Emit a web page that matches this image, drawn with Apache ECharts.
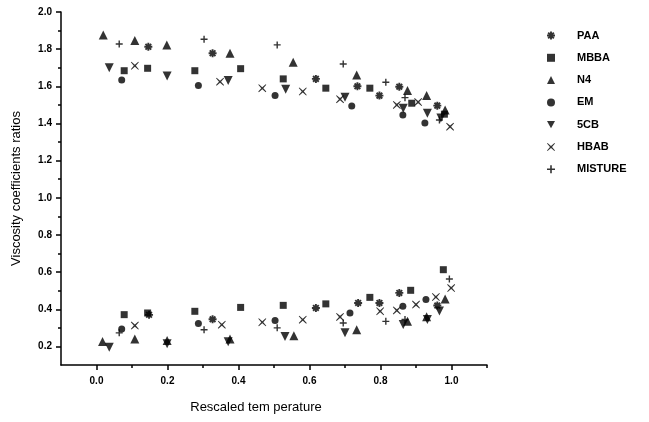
<!DOCTYPE html>
<html>
<head>
<meta charset="utf-8">
<script src="https://cdn.jsdelivr.net/npm/echarts@6/dist/echarts.min.js"></script>
<style>
  html, body { margin: 0; padding: 0; background: #fff; }
  #chart { width: 649px; height: 422px; }
</style>
</head>
<body>
<div id="chart"></div>
<script>
// points: [rescaled temperature, viscosity ratio]
const paa = [
  [0.146, 1.813], [0.327, 1.778], [0.618, 1.640], [0.735, 1.600], [0.797, 1.550], [0.853, 1.598], [0.960, 1.496],
  [0.148, 0.370], [0.327, 0.346], [0.618, 0.407], [0.737, 0.434], [0.797, 0.434], [0.853, 0.488], [0.960, 0.420]
];
const mbba = [
  [0.078, 1.684], [0.144, 1.697], [0.277, 1.684], [0.406, 1.695], [0.526, 1.640], [0.646, 1.590], [0.770, 1.590], [0.888, 1.509], [0.980, 1.450],
  [0.078, 0.371], [0.144, 0.380], [0.277, 0.389], [0.406, 0.410], [0.526, 0.421], [0.646, 0.429], [0.770, 0.464], [0.885, 0.502], [0.977, 0.613]
];
const n4 = [
  [0.019, 1.876], [0.108, 1.846], [0.198, 1.823], [0.376, 1.778], [0.554, 1.730], [0.733, 1.661], [0.876, 1.577], [0.930, 1.550], [0.982, 1.473],
  [0.017, 0.227], [0.108, 0.240], [0.199, 0.232], [0.376, 0.240], [0.556, 0.258], [0.733, 0.290], [0.876, 0.335], [0.930, 0.360], [0.982, 0.455]
];
const em = [
  [0.071, 1.634], [0.287, 1.604], [0.503, 1.550], [0.719, 1.494], [0.863, 1.446], [0.925, 1.402],
  [0.071, 0.294], [0.287, 0.323], [0.503, 0.339], [0.714, 0.380], [0.863, 0.416], [0.928, 0.452]
];
const scb = [
  [0.036, 1.700], [0.199, 1.656], [0.371, 1.631], [0.533, 1.584], [0.700, 1.541], [0.864, 1.482], [0.932, 1.455], [0.970, 1.430],
  [0.036, 0.195], [0.199, 0.215], [0.371, 0.225], [0.531, 0.254], [0.700, 0.273], [0.864, 0.318], [0.932, 0.345], [0.966, 0.390]
];
const hbab = [
  [0.108, 1.711], [0.348, 1.625], [0.467, 1.590], [0.581, 1.572], [0.686, 1.531], [0.846, 1.500], [0.906, 1.515], [0.996, 1.383],
  [0.108, 0.312], [0.353, 0.317], [0.467, 0.330], [0.581, 0.344], [0.686, 0.359], [0.799, 0.389], [0.846, 0.394], [0.900, 0.425], [0.956, 0.466], [0.999, 0.514]
];
const misture = [
  [0.064, 1.828], [0.303, 1.853], [0.509, 1.823], [0.695, 1.720], [0.815, 1.622], [0.869, 1.539], [0.966, 1.419],
  [0.064, 0.273], [0.303, 0.290], [0.509, 0.300], [0.695, 0.326], [0.815, 0.335], [0.869, 0.345], [0.994, 0.563]
];

const xMajor = [0, 0.2, 0.4, 0.6, 0.8, 1.0];
const xMinor = [0.1, 0.3, 0.5, 0.7, 0.9, 1.1];
const yMajor = [0.2, 0.4, 0.6, 0.8, 1.0, 1.2, 1.4, 1.6, 1.8, 2.0];
const yMinor = [0.3, 0.5, 0.7, 0.9, 1.1, 1.3, 1.5, 1.7, 1.9];

// symbols
const plusPath = 'path://M-1,-5H1V-1H5V1H1V5H-1V1H-5V-1H-1Z';
const crossPath = 'path://M-4.3,-5L0,-1.3L4.3,-5L5,-4.3L1.3,0L5,4.3L4.3,5L0,1.3L-4.3,5L-5,4.3L-1.3,0L-5,-4.3Z';
const starPath = 'path://M-1.2,-5H1.2V5H-1.2Z M-5,-1.2H5V1.2H-5Z M-4.4,-2.7L-2.7,-4.4L4.4,2.7L2.7,4.4Z M2.7,-4.4L4.4,-2.7L-2.7,4.4L-4.4,2.7Z';
const downTri = 'path://M0,0L10,0L5,9Z';

const black = '#000';
const labelFont = { fontFamily: 'Liberation Sans', fontWeight: 'bold', fontSize: 10, color: black };

function ser(name, data, symbol, size) {
  return {
    name: name,
    type: 'scatter',
    data: data,
    symbol: symbol,
    symbolSize: size,
    itemStyle: { color: black },
    xAxisIndex: 0,
    yAxisIndex: 0
  };
}

const chart = echarts.init(document.getElementById('chart'));
chart.setOption({
  animation: false,
  backgroundColor: '#fff',
  grid: { left: 61, right: 162, top: 12, bottom: 57 },
  legend: {
    orient: 'vertical',
    left: 542,
    top: 25,
    itemWidth: 8,
    itemHeight: 8,
    itemGap: 11.3,
    textStyle: {
      fontFamily: 'Liberation Sans', fontWeight: 'bold', fontSize: 11, color: black,
      padding: [0, 0, 0, 17]
    },
    data: ['PAA', 'MBBA', 'N4', 'EM', '5CB', 'HBAB', 'MISTURE']
  },
  xAxis: [
    {
      type: 'value', min: -0.1, max: 1.1,
      name: 'Rescaled tem perature',
      nameLocation: 'middle',
      nameGap: 36,
      nameTextStyle: { fontFamily: 'Liberation Sans', fontSize: 13, color: black, padding: [0, 36, 0, 0] },
      axisLine: { show: true, onZero: false, lineStyle: { color: black, width: 1.5 } },
      axisTick: { show: true, customValues: xMajor, length: 5, lineStyle: { color: black, width: 1.5 } },
      axisLabel: Object.assign({ customValues: xMajor, margin: 11, formatter: v => v.toFixed(1) }, labelFont),
      splitLine: { show: false }
    },
    {
      type: 'value', min: -0.1, max: 1.1, position: 'bottom',
      axisLine: { show: false, onZero: false },
      axisTick: { show: true, customValues: xMinor, length: 3, lineStyle: { color: black, width: 1.5 } },
      axisLabel: { show: false },
      splitLine: { show: false }
    }
  ],
  yAxis: [
    {
      type: 'value', min: 0.1, max: 2.0,
      name: 'Viscosity coefficients ratios',
      nameLocation: 'middle',
      nameGap: 38,
      nameTextStyle: { fontFamily: 'Liberation Sans', fontSize: 13, color: black },
      axisLine: { show: true, onZero: false, lineStyle: { color: black, width: 1.5 } },
      axisTick: { show: true, customValues: yMajor, length: 5, lineStyle: { color: black, width: 1.5 } },
      axisLabel: Object.assign({ customValues: yMajor, margin: 9, formatter: v => v.toFixed(1) }, labelFont),
      splitLine: { show: false }
    },
    {
      type: 'value', min: 0.1, max: 2.0, position: 'left',
      axisLine: { show: false, onZero: false },
      axisTick: { show: true, customValues: yMinor, length: 3, lineStyle: { color: black, width: 1.5 } },
      axisLabel: { show: false },
      splitLine: { show: false }
    }
  ],
  series: [
    ser('PAA', paa, starPath, 8),
    ser('MBBA', mbba, 'rect', 7),
    ser('N4', n4, 'triangle', 9),
    ser('EM', em, 'circle', 7),
    ser('5CB', scb, downTri, 9),
    ser('HBAB', hbab, crossPath, 8),
    ser('MISTURE', misture, plusPath, 7)
  ]
});
</script>
</body>
</html>
